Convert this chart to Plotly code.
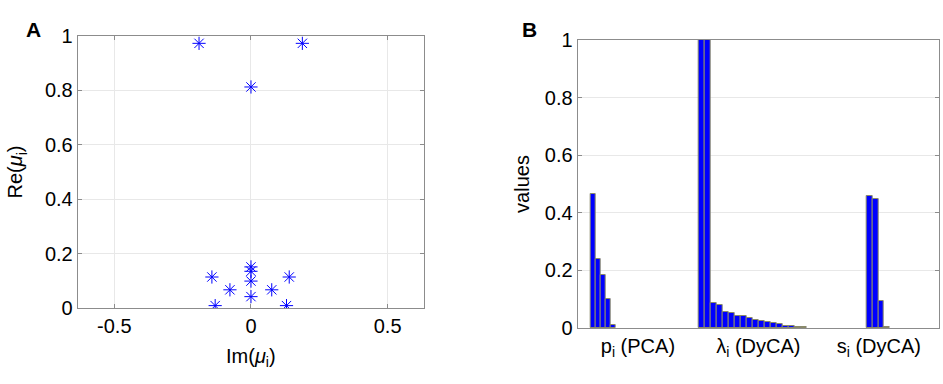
import plotly.graph_objects as go

# ---- Panel A data: eigenvalues mu_i ----
im_mu = [-0.190, 0.188, 0.0, 0.0, 0.0, 0.0, 0.0, -0.143, 0.140, -0.077, 0.076, -0.131, 0.130]
re_mu = [0.972, 0.972, 0.812, 0.152, 0.136, 0.100, 0.043, 0.115, 0.115, 0.068, 0.068, 0.010, 0.010]

# ---- Panel B data ----
categories = ["p<sub>i</sub> (PCA)", "λ<sub>i</sub> (DyCA)", "s<sub>i</sub> (DyCA)"]
pca_p = [0.465, 0.238, 0.185, 0.100, 0.012]
dyca_lambda = [1.0, 1.0, 0.086, 0.081, 0.057, 0.052, 0.041, 0.040, 0.034, 0.029,
               0.023, 0.021, 0.016, 0.013, 0.006, 0.006, 0.002, 0.002]
dyca_s = [0.458, 0.448, 0.094, 0.003]

# group layout (start position in category units, bar pitch)
group_start = [0.608, 1.503, 2.903]
group_pitch = [0.0414, 0.0497, 0.0465]

FONT = "Liberation Sans, Arial, Helvetica, sans-serif"
AXCOL = "#8c8c8c"
GRIDCOL = "#e8e8e8"

fig = go.Figure()

fig.add_trace(go.Scatter(
    x=im_mu, y=re_mu, mode="markers",
    marker=dict(symbol="asterisk-open", size=11, color="blue",
                line=dict(color="blue", width=1)),
    xaxis="x", yaxis="y", showlegend=False,
))

for vals, start, pitch in zip([pca_p, dyca_lambda, dyca_s], group_start, group_pitch):
    xs = [start + pitch * (i + 0.5) for i in range(len(vals))]
    fig.add_trace(go.Bar(
        x=xs, y=vals, width=pitch,
        marker=dict(color="#0000ff", line=dict(color="#8a8a6a", width=1)),
        xaxis="x2", yaxis="y2", showlegend=False,
    ))

axis_common = dict(
    showline=True, linecolor=AXCOL, linewidth=1, mirror="ticks",
    tickcolor=AXCOL, automargin=False,
    tickfont=dict(family=FONT, size=20, color="black"),
    zeroline=False,
)
TITLEFONT = dict(family=FONT, size=20, color="black")
YT = [0, 0.2, 0.4, 0.6, 0.8, 1]
YTT = ["0", "0.2", "0.4", "0.6", "0.8", "1"]

fig.update_layout(
    width=943, height=384,
    margin=dict(l=0, r=0, t=0, b=0),
    paper_bgcolor="white", plot_bgcolor="white",
    bargap=0,
    xaxis=dict(
        domain=[0.0824, 0.4496], range=[-0.634, 0.633],
        tickvals=[-0.5, 0, 0.5], ticktext=["-0.5", "0", "0.5"],
        ticks="inside", ticklen=4,
        showgrid=True, gridcolor=GRIDCOL,
        title=dict(text="Im(<i>μ</i><sub>i</sub>)", font=TITLEFONT, standoff=12),
        **axis_common,
    ),
    yaxis=dict(
        domain=[0.197, 0.907], range=[0, 1],
        tickvals=YT, ticktext=YTT,
        ticks="inside", ticklen=4,
        showgrid=True, gridcolor=GRIDCOL,
        title=dict(text="Re(<i>μ</i><sub>i</sub>)", font=TITLEFONT, standoff=16),
        **axis_common,
    ),
    xaxis2=dict(
        domain=[0.6126, 0.9958], range=[0.5, 3.5],
        tickvals=[1, 2, 3], ticktext=categories,
        ticks="",
        showgrid=False,
        anchor="y2",
        **axis_common,
    ),
    yaxis2=dict(
        domain=[0.1458, 0.8958], range=[0, 1],
        tickvals=YT, ticktext=YTT,
        ticks="inside", ticklen=4,
        showgrid=True, gridcolor=GRIDCOL,
        anchor="x2",
        title=dict(text="values", font=TITLEFONT, standoff=9),
        **axis_common,
    ),
    annotations=[
        dict(text="<b>A</b>", x=24 / 943, y=1 - 16 / 384, xref="paper", yref="paper",
             showarrow=False, font=dict(family=FONT, size=21, color="black")),
        dict(text="<b>B</b>", x=529 / 943, y=1 - 16 / 384, xref="paper", yref="paper",
             showarrow=False, font=dict(family=FONT, size=21, color="black")),
    ],
)

fig.write_html(
    "out.html",
    config={"displayModeBar": False},
    post_script="document.body.style.margin='0';document.body.style.overflow='hidden';",
)
